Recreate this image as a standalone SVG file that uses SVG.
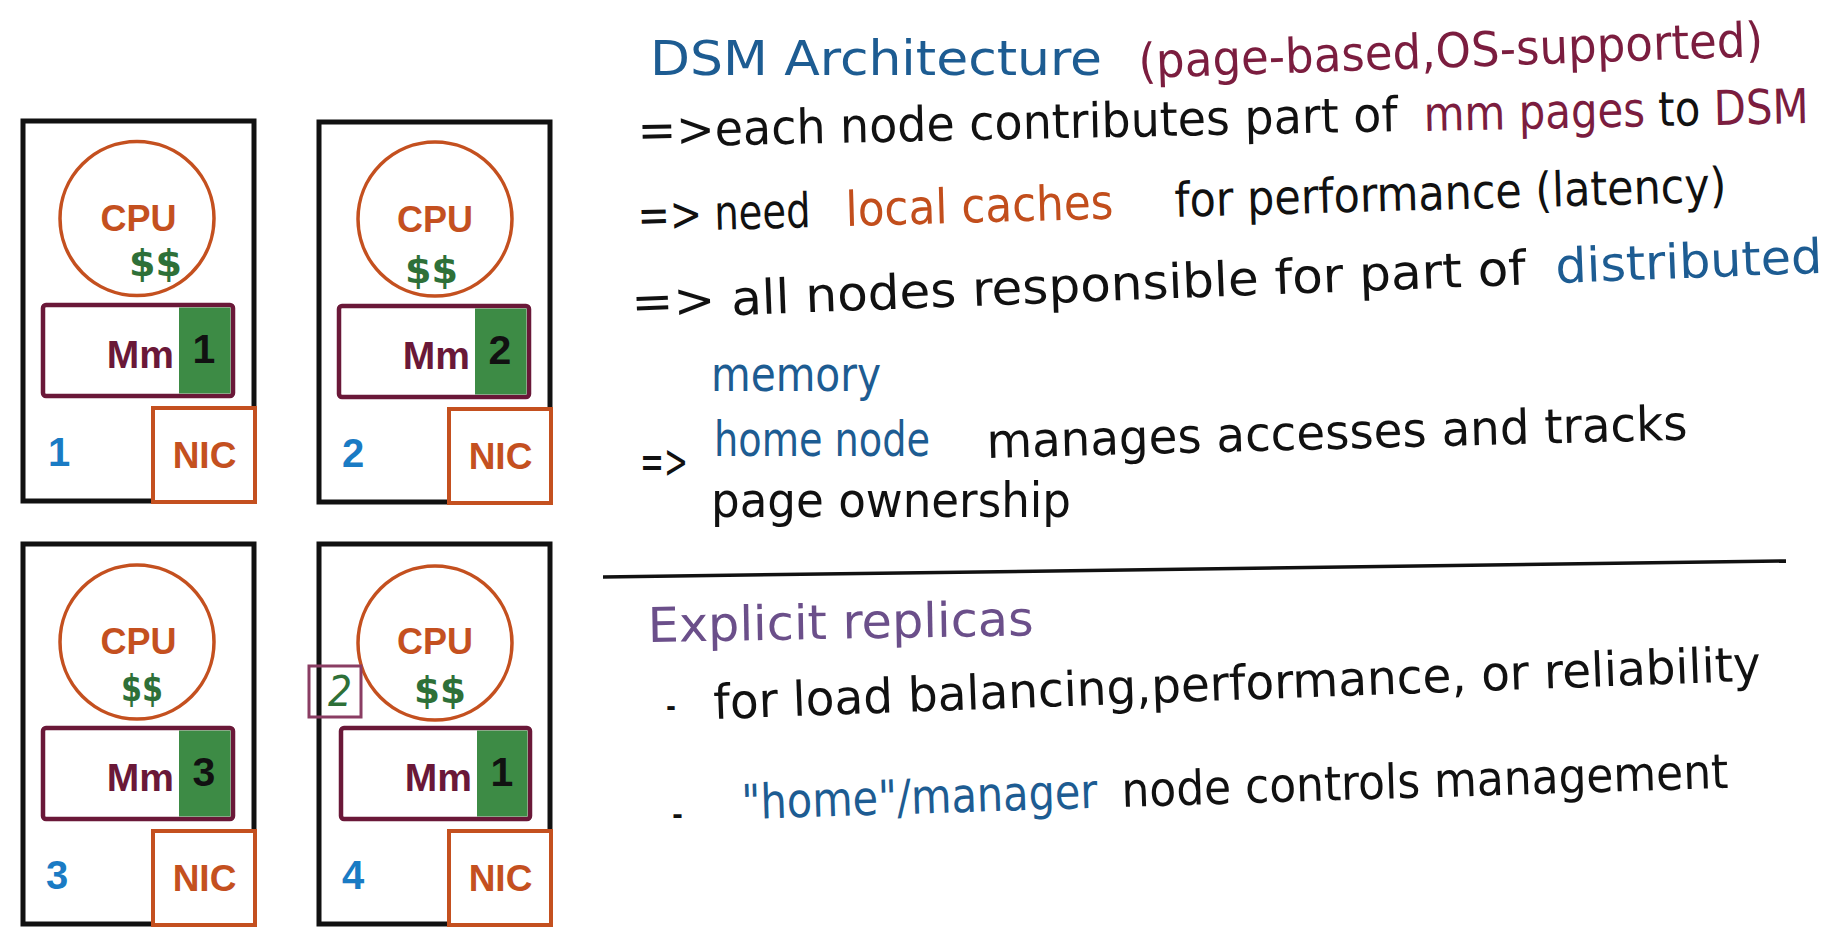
<svg xmlns="http://www.w3.org/2000/svg" width="1842" height="944" viewBox="0 0 1842 944">
<style>
.frame{fill:none;stroke:#111;stroke-width:5}
.cpu{fill:none;stroke:#c4501f;stroke-width:3.5}
.mm{fill:#fff;stroke:#6a1838;stroke-width:4.5}
.green{fill:#3d8b45}
.nic{fill:#fff;stroke:#c4501f;stroke-width:4}
.lbl{font-family:"Liberation Sans",Arial,sans-serif;font-weight:bold}
.cput{fill:#c4501f;font-size:36px;text-anchor:middle}
.mmt{fill:#6a1838;font-size:39px;text-anchor:end}
.num{fill:#111;font-size:41px;text-anchor:middle}
.nict{fill:#c4501f;font-size:37px;text-anchor:middle}
.id{fill:#1a7bc4;font-size:40px}
.cash{font-family:"DejaVu Sans Condensed","DejaVu Sans",sans-serif;font-weight:bold;font-size:38px;fill:#2e7038}
.hw{font-family:"DejaVu Sans Condensed","DejaVu Sans",sans-serif;font-size:48px;fill:#111}
.blue{fill:#1d5c92}
.maroon{fill:#7b1d3f}
.orange{fill:#c24e1c}
.purple{fill:#6b4f8a}
.blk{fill:#111}
</style>

<g id="connectors"></g>

<g id="node1" transform="translate(23,121)">
  <rect class="frame" x="0" y="0" width="231" height="380"/>
  <circle class="cpu" cx="114" cy="97.5" r="77"/>
  <text class="lbl cput" x="115.5" y="110">CPU</text>
  <text class="cash" x="106" y="155" textLength="53" lengthAdjust="spacingAndGlyphs">$$</text>
  <rect class="mm" x="20" y="184" width="190" height="91" rx="3"/>
  <rect class="green" x="156" y="186.5" width="51.5" height="86"/>
  <text class="lbl mmt" x="151" y="247">Mm</text>
  <text class="lbl num" x="181" y="242">1</text>
  <rect class="nic" x="130" y="287" width="102" height="94"/>
  <text class="lbl nict" x="181.5" y="347">NIC</text>
  <text class="lbl id" x="25" y="345">1</text>
</g>

<g id="node2" transform="translate(319,122)">
  <rect class="frame" x="0" y="0" width="231" height="380"/>
  <circle class="cpu" cx="116" cy="97" r="77"/>
  <text class="lbl cput" x="116" y="110">CPU</text>
  <text class="cash" x="86" y="161" textLength="53" lengthAdjust="spacingAndGlyphs">$$</text>
  <rect class="mm" x="20" y="184" width="190" height="91" rx="3"/>
  <rect class="green" x="156" y="186.5" width="51.5" height="86"/>
  <text class="lbl mmt" x="151" y="247">Mm</text>
  <text class="lbl num" x="181" y="242">2</text>
  <rect class="nic" x="130" y="287" width="102" height="94"/>
  <text class="lbl nict" x="181.5" y="347">NIC</text>
  <text class="lbl id" x="23" y="345">2</text>
</g>

<g id="node3" transform="translate(23,544)">
  <rect class="frame" x="0" y="0" width="231" height="380"/>
  <circle class="cpu" cx="114" cy="98" r="77"/>
  <text class="lbl cput" x="115.5" y="110">CPU</text>
  <text class="cash" x="98" y="157" textLength="42" lengthAdjust="spacingAndGlyphs">$$</text>
  <rect class="mm" x="20" y="184" width="190" height="91" rx="3"/>
  <rect class="green" x="156" y="186.5" width="51.5" height="86"/>
  <text class="lbl mmt" x="151" y="247">Mm</text>
  <text class="lbl num" x="181" y="242">3</text>
  <rect class="nic" x="130" y="287" width="102" height="94"/>
  <text class="lbl nict" x="181.5" y="347">NIC</text>
  <text class="lbl id" x="23" y="345">3</text>
</g>

<g id="node4" transform="translate(319,544)">
  <rect class="frame" x="0" y="0" width="231" height="380"/>
  <circle class="cpu" cx="116" cy="99" r="77"/>
  <text class="lbl cput" x="116" y="110">CPU</text>
  <text class="cash" x="95" y="159" textLength="52" lengthAdjust="spacingAndGlyphs">$$</text>
  <rect class="mm" x="22" y="184" width="189" height="91" rx="3"/>
  <rect class="green" x="158" y="186.5" width="50.5" height="86"/>
  <text class="lbl mmt" x="153" y="247">Mm</text>
  <text class="lbl num" x="183" y="242">1</text>
  <rect class="nic" x="130" y="287" width="102" height="94"/>
  <text class="lbl nict" x="181.5" y="347">NIC</text>
  <text class="lbl id" x="23" y="345">4</text>
</g>

<g id="replica2">
  <rect x="309" y="666" width="52" height="51" fill="none" stroke="#8a3d63" stroke-width="3"/>
  <text x="328" y="706" font-family="DejaVu Sans Condensed, DejaVu Sans, sans-serif" font-style="italic" font-size="42" fill="#2e7038">2</text>
</g>

<g id="notes">
  <text class="hw blue" x="650" y="75" font-size="58" textLength="452" lengthAdjust="spacingAndGlyphs">DSM Architecture</text>
  <text class="hw maroon" x="1139" y="78" font-size="50" textLength="625" lengthAdjust="spacingAndGlyphs" transform="rotate(-2 1139 78)">(page-based,OS-supported)</text>

  <text class="hw" x="638" y="147" textLength="760" lengthAdjust="spacingAndGlyphs" transform="rotate(-1.2 638 147)">=&gt;each node contributes part of</text>
  <text class="hw" x="1424" y="131" textLength="385" lengthAdjust="spacingAndGlyphs" transform="rotate(-1.2 1424 131)"><tspan class="maroon">mm pages</tspan><tspan class="blk"> to </tspan><tspan class="maroon">DSM</tspan></text>

  <text class="hw" x="638" y="232" textLength="173" lengthAdjust="spacingAndGlyphs" transform="rotate(-1.6 638 232)">=&gt; need</text>
  <text class="hw orange" x="846" y="226" textLength="268" lengthAdjust="spacingAndGlyphs" transform="rotate(-1.6 846 226)">local caches</text>
  <text class="hw" x="1175" y="217" textLength="552" lengthAdjust="spacingAndGlyphs" transform="rotate(-1.6 1175 217)">for performance (latency)</text>

  <text class="hw" x="632" y="319" textLength="895" lengthAdjust="spacingAndGlyphs" transform="rotate(-2.2 632 319)">=&gt; all nodes responsible for part of</text>
  <text class="hw blue" x="1556" y="283" textLength="267" lengthAdjust="spacingAndGlyphs" transform="rotate(-2.2 1556 283)">distributed</text>
  <text class="hw blue" x="711" y="391" textLength="170" lengthAdjust="spacingAndGlyphs">memory</text>

  <text class="hw" x="640" y="478" textLength="48" lengthAdjust="spacingAndGlyphs">=&gt;</text>
  <text class="hw blue" x="714" y="456" textLength="216" lengthAdjust="spacingAndGlyphs">home node</text>
  <text class="hw" x="987" y="458" textLength="701" lengthAdjust="spacingAndGlyphs" transform="rotate(-1.5 987 458)">manages accesses and tracks</text>
  <text class="hw" x="711" y="517" textLength="360" lengthAdjust="spacingAndGlyphs">page ownership</text>

  <line x1="603" y1="577" x2="1786" y2="561" stroke="#111" stroke-width="3.5"/>

  <text class="hw purple" x="648" y="642" textLength="386" lengthAdjust="spacingAndGlyphs" transform="rotate(-1 648 642)">Explicit replicas</text>
  <text class="hw" x="666" y="721" textLength="10" lengthAdjust="spacingAndGlyphs">-</text>
  <text class="hw" x="714" y="719" textLength="1048" lengthAdjust="spacingAndGlyphs" transform="rotate(-2.1 714 719)">for load balancing,performance, or reliability</text>
  <text class="hw" x="672" y="829" textLength="11" lengthAdjust="spacingAndGlyphs">-</text>
  <text class="hw blue" x="742" y="819" textLength="356" lengthAdjust="spacingAndGlyphs" transform="rotate(-1.8 742 819)">"home"/manager</text>
  <text class="hw" x="1122" y="807" textLength="607" lengthAdjust="spacingAndGlyphs" transform="rotate(-1.8 1122 807)">node controls management</text>
</g>
</svg>
